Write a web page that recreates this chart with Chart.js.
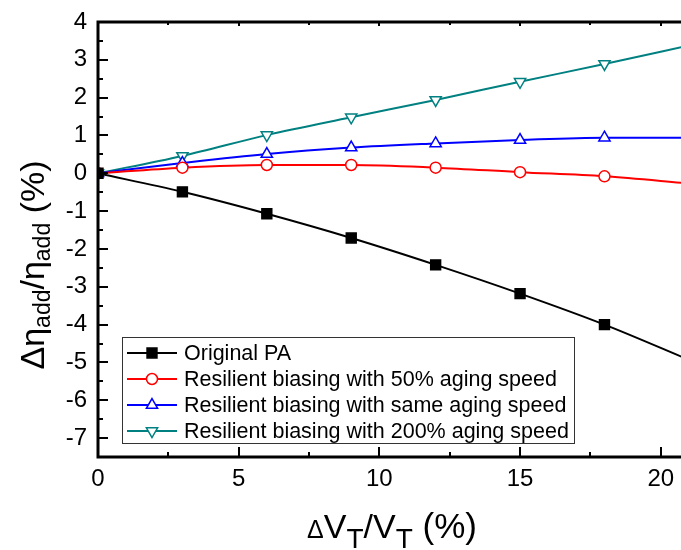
<!DOCTYPE html>
<html>
<head>
<meta charset="utf-8">
<script src="https://cdn.jsdelivr.net/npm/chart.js@4/dist/chart.umd.min.js"></script>
<style>
  html, body { margin: 0; padding: 0; background: #fff; }
  canvas { display: block; }
</style>
</head>
<body>
<canvas id="chart" width="681" height="550"></canvas>
<script>
// ΔVT/VT (%) positions
const xValues = [0, 3, 6, 9, 12, 15, 18, 21];
const original = [0, -0.49, -1.07, -1.71, -2.42, -3.18, -4.0, -4.93];
const half = [0, 0.15, 0.22, 0.22, 0.15, 0.03, -0.08, -0.27];
const same = [0, 0.27, 0.51, 0.68, 0.79, 0.88, 0.94, 0.94];
const double = [0, 0.46, 1.01, 1.48, 1.94, 2.42, 2.89, 3.38];

const xTicks = [0, 5, 10, 15, 20];
const yTicks = [-7, -6, -5, -4, -3, -2, -1, 0, 1, 2, 3, 4];

const seriesNames = [
    'Original PA',
    'Resilient biasing with 50% aging speed',
    'Resilient biasing with same aging speed',
    'Resilient biasing with 200% aging speed'
];

function pts(ys) {
    return xValues.map((x, i) => ({ x: x, y: ys[i] }));
}

const FONT = 'Arial, "Liberation Sans", sans-serif';

// axes frame, inward ticks, legend and titles drawn by hand
const framePlugin = {
    id: 'frame',
    afterDraw(chart) {
        const ctx = chart.ctx;
        const a = chart.chartArea;
        const xs = chart.scales.x, ys = chart.scales.y;
        ctx.save();
        ctx.strokeStyle = '#000';
        ctx.lineWidth = 3;
        ctx.beginPath();
        ctx.moveTo(a.right, a.top); ctx.lineTo(a.left, a.top);
        ctx.lineTo(a.left, a.bottom); ctx.lineTo(a.right, a.bottom);
        ctx.stroke();

        ctx.lineWidth = 2;
        ctx.beginPath();
        for (let v = xs.min; v <= xs.max + 1e-9; v += 2.5) {
            const px = Math.round(xs.getPixelForValue(v));
            const major = Math.abs(v % 5) < 1e-6;
            ctx.moveTo(px, a.bottom); ctx.lineTo(px, a.bottom - (major ? 10 : 5));
            if (v > 0) { ctx.moveTo(px, a.top); ctx.lineTo(px, a.top + (major ? 4 : 3)); }
        }
        for (let v = -7.5; v <= ys.max + 1e-9; v += 0.5) {
            const py = Math.round(ys.getPixelForValue(v));
            const major = Math.abs(v % 1) < 1e-6;
            ctx.moveTo(a.left, py); ctx.lineTo(a.left + (major ? 10 : 5), py);
        }
        ctx.stroke();

        // legend box
        const lx = 122, ly = 337, lw = 452, lh = 106;
        ctx.fillStyle = '#fff';
        ctx.fillRect(lx, ly, lw, lh);
        ctx.lineWidth = 1;
        ctx.strokeStyle = '#333';
        ctx.strokeRect(lx + 0.5, ly + 0.5, lw, lh);
        chart.data.datasets.forEach((ds, i) => {
            const ry = 353 + i * 26;
            ctx.strokeStyle = ds.borderColor;
            ctx.lineWidth = 2;
            ctx.beginPath();
            ctx.moveTo(127, ry); ctx.lineTo(177, ry);
            ctx.stroke();
            ctx.fillStyle = ds.pointBackgroundColor;
            ctx.strokeStyle = ds.pointBorderColor;
            ctx.lineWidth = 1.5;
            Chart.helpers.drawPoint(ctx, {
                pointStyle: ds.pointStyle,
                radius: ds.pointRadius,
                rotation: ds.pointRotation || 0,
                borderWidth: 1.5
            }, 152, ry);
            ctx.fillStyle = '#000';
            ctx.font = '21.5px ' + FONT;
            ctx.textBaseline = 'middle';
            ctx.textAlign = 'left';
            ctx.fillText(ds.label, 184, ry + 1);
        });

        // rich text helper: parts [text, size, shift]
        function rich(parts, cx, cy) {
            let w = 0;
            parts.forEach(p => { ctx.font = p[1] + 'px ' + FONT; w += ctx.measureText(p[0]).width; });
            let x = cx - w / 2;
            ctx.textAlign = 'left';
            ctx.textBaseline = 'alphabetic';
            ctx.fillStyle = '#000';
            parts.forEach(p => {
                ctx.font = p[1] + 'px ' + FONT;
                ctx.fillText(p[0], x, cy + p[2]);
                x += ctx.measureText(p[0]).width;
            });
        }

        rich([['Δ', 25, 0], ['V', 34, 0], ['T', 28, 10], ['/V', 34, 0], ['T', 28, 10], [' (%)', 35, 0]], 392, 538);

        ctx.save();
        ctx.translate(44, 265);
        ctx.rotate(-Math.PI / 2);
        rich([['Δη', 34, 0], ['add', 23, 6], ['/η', 34, 0], ['add', 23, 6], [' (%)', 34, 0]], 0, 0);
        ctx.restore();

        ctx.restore();
    }
};

const ctx = document.getElementById('chart').getContext('2d');
const chart = new Chart(ctx, {
    type: 'line',
    data: {
        datasets: [
            {
                label: seriesNames[0], data: pts(original),
                borderColor: '#000000', pointStyle: 'rect', pointRadius: 7,
                pointBackgroundColor: '#000000', pointBorderColor: '#000000'
            },
            {
                label: seriesNames[1], data: pts(half),
                borderColor: '#ff0000', pointStyle: 'circle', pointRadius: 5.5,
                pointBackgroundColor: '#ffffff', pointBorderColor: '#ff0000'
            },
            {
                label: seriesNames[2], data: pts(same),
                borderColor: '#0000ff', pointStyle: 'triangle', pointRadius: 6.5,
                pointBackgroundColor: '#ffffff', pointBorderColor: '#0000ff'
            },
            {
                label: seriesNames[3], data: pts(double),
                borderColor: '#008080', pointStyle: 'triangle', pointRotation: 180, pointRadius: 6.5,
                pointBackgroundColor: '#ffffff', pointBorderColor: '#008080'
            }
        ]
    },
    options: {
        responsive: false,
        animation: false,
        layout: { autoPadding: false, padding: { top: 22, right: 0, left: 0, bottom: 0 } },
        datasets: {
            line: {
                borderWidth: 2,
                pointBorderWidth: 1.5,
                cubicInterpolationMode: 'monotone'
            }
        },
        plugins: {
            legend: { display: false },
            tooltip: { enabled: false }
        },
        scales: {
            x: {
                type: 'linear',
                min: 0,
                max: 20.72,
                afterFit(scale) {
                    scale.height = 93;
                    scale.paddingLeft = 0;
                    scale.paddingRight = 0;
                },
                afterBuildTicks(scale) { scale.ticks = xTicks.map(v => ({ value: v })); },
                grid: { display: false, drawTicks: false },
                border: { display: false },
                ticks: { color: '#000', font: { size: 24, family: FONT }, padding: 8, maxRotation: 0 }
            },
            y: {
                type: 'linear',
                min: -7.5,
                max: 4,
                afterFit(scale) {
                    scale.width = 98;
                    scale.paddingTop = 0;
                    scale.paddingBottom = 0;
                },
                afterBuildTicks(scale) { scale.ticks = yTicks.map(v => ({ value: v })); },
                grid: { display: false, drawTicks: false },
                border: { display: false },
                ticks: { color: '#000', font: { size: 24, family: FONT }, padding: 11 }
            }
        }
    },
    plugins: [framePlugin]
});
</script>
</body>
</html>
